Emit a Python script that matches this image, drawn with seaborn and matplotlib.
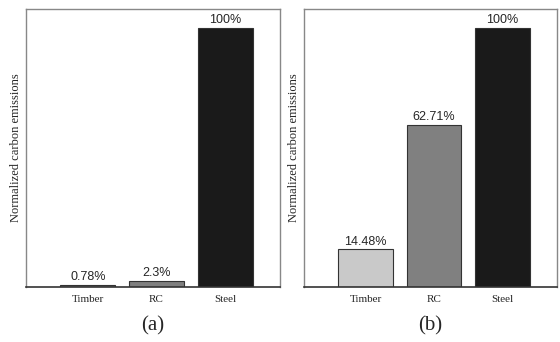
import pandas as pd
import matplotlib.pyplot as plt
import seaborn as sns

# dados
materiais = ["Timber", "RC", "Steel"]
emissoes_a = [0.78, 2.3, 100]
emissoes_b = [14.48, 62.71, 100]
rotulos_a = ["0.78%", "2.3%", "100%"]
rotulos_b = ["14.48%", "62.71%", "100%"]
legendas = ["(a)", "(b)"]

sns.set_style("white")
plt.rcParams["font.family"] = ["Liberation Serif", "DejaVu Serif"]

cores_a = {"Timber": "#8a8a8a", "RC": "#7f7f7f", "Steel": "#1a1a1a"}
cores_b = {"Timber": "#c9c9c9", "RC": "#808080", "Steel": "#1a1a1a"}

fig = plt.figure(figsize=(5.6, 3.42), dpi=100)
ax1 = fig.add_axes([26 / 560, 1 - 287 / 342, 254 / 560, 278 / 342])
ax2 = fig.add_axes([304 / 560, 1 - 287 / 342, 253 / 560, 278 / 342])

for ax, vals, rots, cores, leg in zip([ax1, ax2], [emissoes_a, emissoes_b],
                                      [rotulos_a, rotulos_b], [cores_a, cores_b], legendas):
    df = pd.DataFrame({"Material": materiais, "Valor": vals})
    sns.barplot(data=df, x="Material", y="Valor", hue="Material", palette=cores,
                width=0.8, edgecolor="#333333", linewidth=0.8, legend=False, ax=ax)
    for i, (v, r) in enumerate(zip(vals, rots)):
        ax.text(i, v + 0.6, r, ha="center", va="bottom", fontsize=9,
                family="Liberation Sans")
    ax.set_xlim(-0.9, 2.8)
    ax.set_ylim(0, 107.3)
    ax.set_yticks([])
    ax.set_xlabel("")
    ax.set_ylabel("Normalized carbon emissions", fontsize=9)
    ax.yaxis.labelpad = 3
    ax.tick_params(axis="x", length=0, labelsize=8, pad=6)
    for s in ["top", "left", "right"]:
        ax.spines[s].set_color("#888888")
        ax.spines[s].set_linewidth(1)
    ax.spines["bottom"].set_color("#333333")
    ax.spines["bottom"].set_linewidth(1.2)
    ax.text(0.5, -0.105, leg, transform=ax.transAxes, ha="center", va="top", fontsize=15)

fig.savefig("out.png", dpi=100)
